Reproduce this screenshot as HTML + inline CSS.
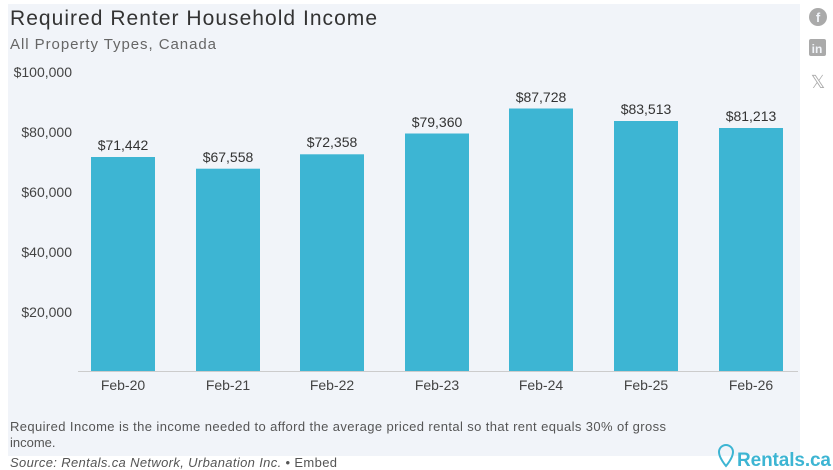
<!DOCTYPE html>
<html><head><style>
body{margin:0;width:833px;height:470px;background:#fff;font-family:"Liberation Sans",sans-serif;overflow:hidden;position:relative}
.panel{position:absolute;left:8px;top:4px;width:792px;height:452px;background:#f1f4f9}
</style></head><body>
<div class="panel"></div>
<svg width="833" height="470" style="position:absolute;left:0;top:0" font-family="Liberation Sans, sans-serif">
<text x="10" y="25" font-size="21" fill="#333" textLength="367">Required Renter Household Income</text>
<text x="10" y="49" font-size="15" fill="#666" textLength="206">All Property Types, Canada</text>
<g font-size="14" fill="#444" text-anchor="end">
<text x="72" y="77">$100,000</text>
<text x="72" y="137">$80,000</text>
<text x="72" y="197">$60,000</text>
<text x="72" y="257">$40,000</text>
<text x="72" y="317">$20,000</text>
</g>
<line x1="78" y1="371.5" x2="798" y2="371.5" stroke="#ccc"/>
<g fill="#3db5d3">
<rect x="91" y="157" width="64" height="214"/>
<rect x="196" y="168.7" width="64" height="202.3"/>
<rect x="300" y="154.3" width="64" height="216.7"/>
<rect x="405" y="133.5" width="64" height="237.5"/>
<rect x="509" y="108.5" width="64" height="262.5"/>
<rect x="614" y="121" width="64" height="250"/>
<rect x="719" y="128" width="64" height="243"/>
</g>
<g font-size="14" fill="#333" text-anchor="middle">
<text x="123" y="150">$71,442</text>
<text x="228" y="162">$67,558</text>
<text x="332" y="147">$72,358</text>
<text x="437" y="127">$79,360</text>
<text x="541" y="102">$87,728</text>
<text x="646" y="114">$83,513</text>
<text x="751" y="121">$81,213</text>
</g>
<g font-size="14" fill="#444" text-anchor="middle">
<text x="123" y="390">Feb-20</text><text x="228" y="390">Feb-21</text><text x="332" y="390">Feb-22</text>
<text x="437" y="390">Feb-23</text><text x="541" y="390">Feb-24</text><text x="646" y="390">Feb-25</text><text x="751" y="390">Feb-26</text>
</g>
<text x="10" y="431" font-size="13" fill="#555" textLength="656">Required Income is the income needed to afford the average priced rental so that rent equals 30% of gross</text>
<text x="10" y="447" font-size="13" fill="#555">income.</text>
<text x="10" y="467" font-size="13" fill="#555" textLength="327"><tspan font-style="italic">Source: Rentals.ca Network, Urbanation Inc.</tspan> • Embed</text>
<circle cx="818" cy="17" r="9" fill="#aaa"/><text x="818" y="22" font-size="13" fill="#f1f4f9" text-anchor="middle" font-weight="bold">f</text>
<rect x="809" y="39" width="17" height="17" rx="2" fill="#aaa"/><text x="817" y="53" font-size="12" fill="#f1f4f9" text-anchor="middle" font-weight="bold">in</text>
<text x="818" y="88" font-size="18" fill="#aaa" text-anchor="middle">𝕏</text>
<path d="M719 452a7 7 0 1 1 14 0c0 6-7 14-7 14s-7-8-7-14z" fill="none" stroke="#3db5d3" stroke-width="2"/>
<text x="737" y="466" font-size="19" font-weight="bold" fill="#3db5d3" textLength="94">Rentals.ca</text>
</svg>
</body></html>
